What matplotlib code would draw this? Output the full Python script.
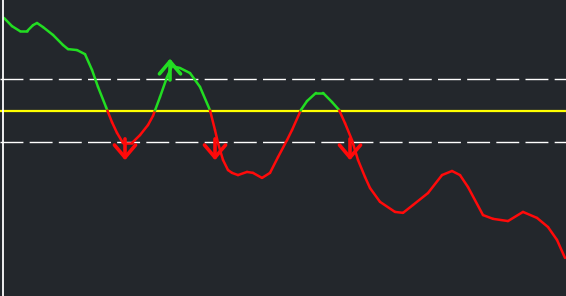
import numpy as np
import matplotlib
matplotlib.use("Agg")
import matplotlib.pyplot as plt

# oscillator readings (bar position, value)
bars = [4, 12, 20, 27, 33, 37, 43, 53, 63, 68, 77, 85, 92, 98, 106, 112, 117,
        123, 132, 140, 148, 153, 160, 167, 172, 180, 190, 200, 210, 215, 218,
        223, 228, 232, 238, 247, 253, 262, 270, 278, 287, 292, 301, 307, 316,
        323, 332, 339, 345, 352, 358, 365, 370, 380, 395, 403, 413, 428, 442,
        452, 460, 468, 483, 493, 508, 523, 537, 548, 557, 565]
values = [2.94, 2.68, 2.52, 2.52, 2.71, 2.78, 2.65, 2.40, 2.08, 1.95, 1.92,
          1.79, 1.29, 0.75, 0.11, -0.37, -0.71, -1.03, -1.03, -0.78, -0.46,
          -0.17, 0.43, 1.06, 1.41, 1.35, 1.19, 0.75, 0.01, -0.62, -1.03,
          -1.57, -1.89, -1.98, -2.05, -1.95, -1.98, -2.14, -1.98, -1.48,
          -0.94, -0.62, 0.02, 0.30, 0.56, 0.56, 0.27, 0.02, -0.40, -0.94,
          -1.57, -2.11, -2.46, -2.90, -3.22, -3.25, -3.00, -2.62, -2.05,
          -1.92, -2.05, -2.43, -3.32, -3.44, -3.51, -3.22, -3.41, -3.70,
          -4.11, -4.68]

mid_level = 0.0
band_levels = [1.0, -1.0]

# trade signals: bar, level where arrow starts, direction (+1 buy, -1 sell)
sig_bars = [125, 170, 215, 350]
sig_levels = [-0.90, 0.97, -0.90, -0.90]
sig_dirs = [-1, 1, -1, -1]

BG = "#23272c"
GREEN = "#22dd22"
RED = "#ff0a0a"

fig = plt.figure(figsize=(5.66, 2.96), dpi=100)
fig.patch.set_facecolor(BG)
ax = fig.add_axes([0, 0, 1, 1])
ax.set_facecolor(BG)
ax.set_xlim(0, 566)
ax.set_ylim(-5.89, 3.51)
ax.axis("off")

# levels
ax.axhline(mid_level, color="#ffff00", lw=1.6, zorder=2)
for lv in band_levels:
    ax.axhline(lv, color="white", lw=1.0, dashes=(16.5, 4.5), zorder=2)
ax.axvline(3, color="white", lw=1.3, zorder=5)

# split the line where it crosses the mid level, green above / red below
x = np.array(bars, dtype=float)
y = np.array(values, dtype=float) - mid_level
for i in range(len(x) - 1):
    x0, x1, y0, y1 = x[i], x[i + 1], y[i], y[i + 1]
    if y0 * y1 < 0:
        xc = x0 + (x1 - x0) * (-y0) / (y1 - y0)
        ax.plot([x0, xc], [y0 + mid_level, mid_level],
                color=GREEN if y0 > 0 else RED, lw=1.8, zorder=3,
                solid_capstyle="round")
        ax.plot([xc, x1], [mid_level, y1 + mid_level],
                color=GREEN if y1 > 0 else RED, lw=1.8, zorder=3,
                solid_capstyle="round")
    else:
        c = GREEN if (y0 + y1) > 0 else RED
        ax.plot([x0, x1], [y0 + mid_level, y1 + mid_level], color=c, lw=1.8,
                zorder=3, solid_capstyle="round")

# arrows
arrow_len = 0.68
for b, lv, d in zip(sig_bars, sig_levels, sig_dirs):
    c = GREEN if d > 0 else RED
    ax.annotate("", xy=(b, lv + d * arrow_len), xytext=(b, lv),
                arrowprops=dict(arrowstyle="->,head_length=0.45,head_width=0.38",
                                color=c, lw=2.6, mutation_scale=20,
                                shrinkA=0, shrinkB=0),
                zorder=4)

plt.savefig("out.png", dpi=100, facecolor=BG)
